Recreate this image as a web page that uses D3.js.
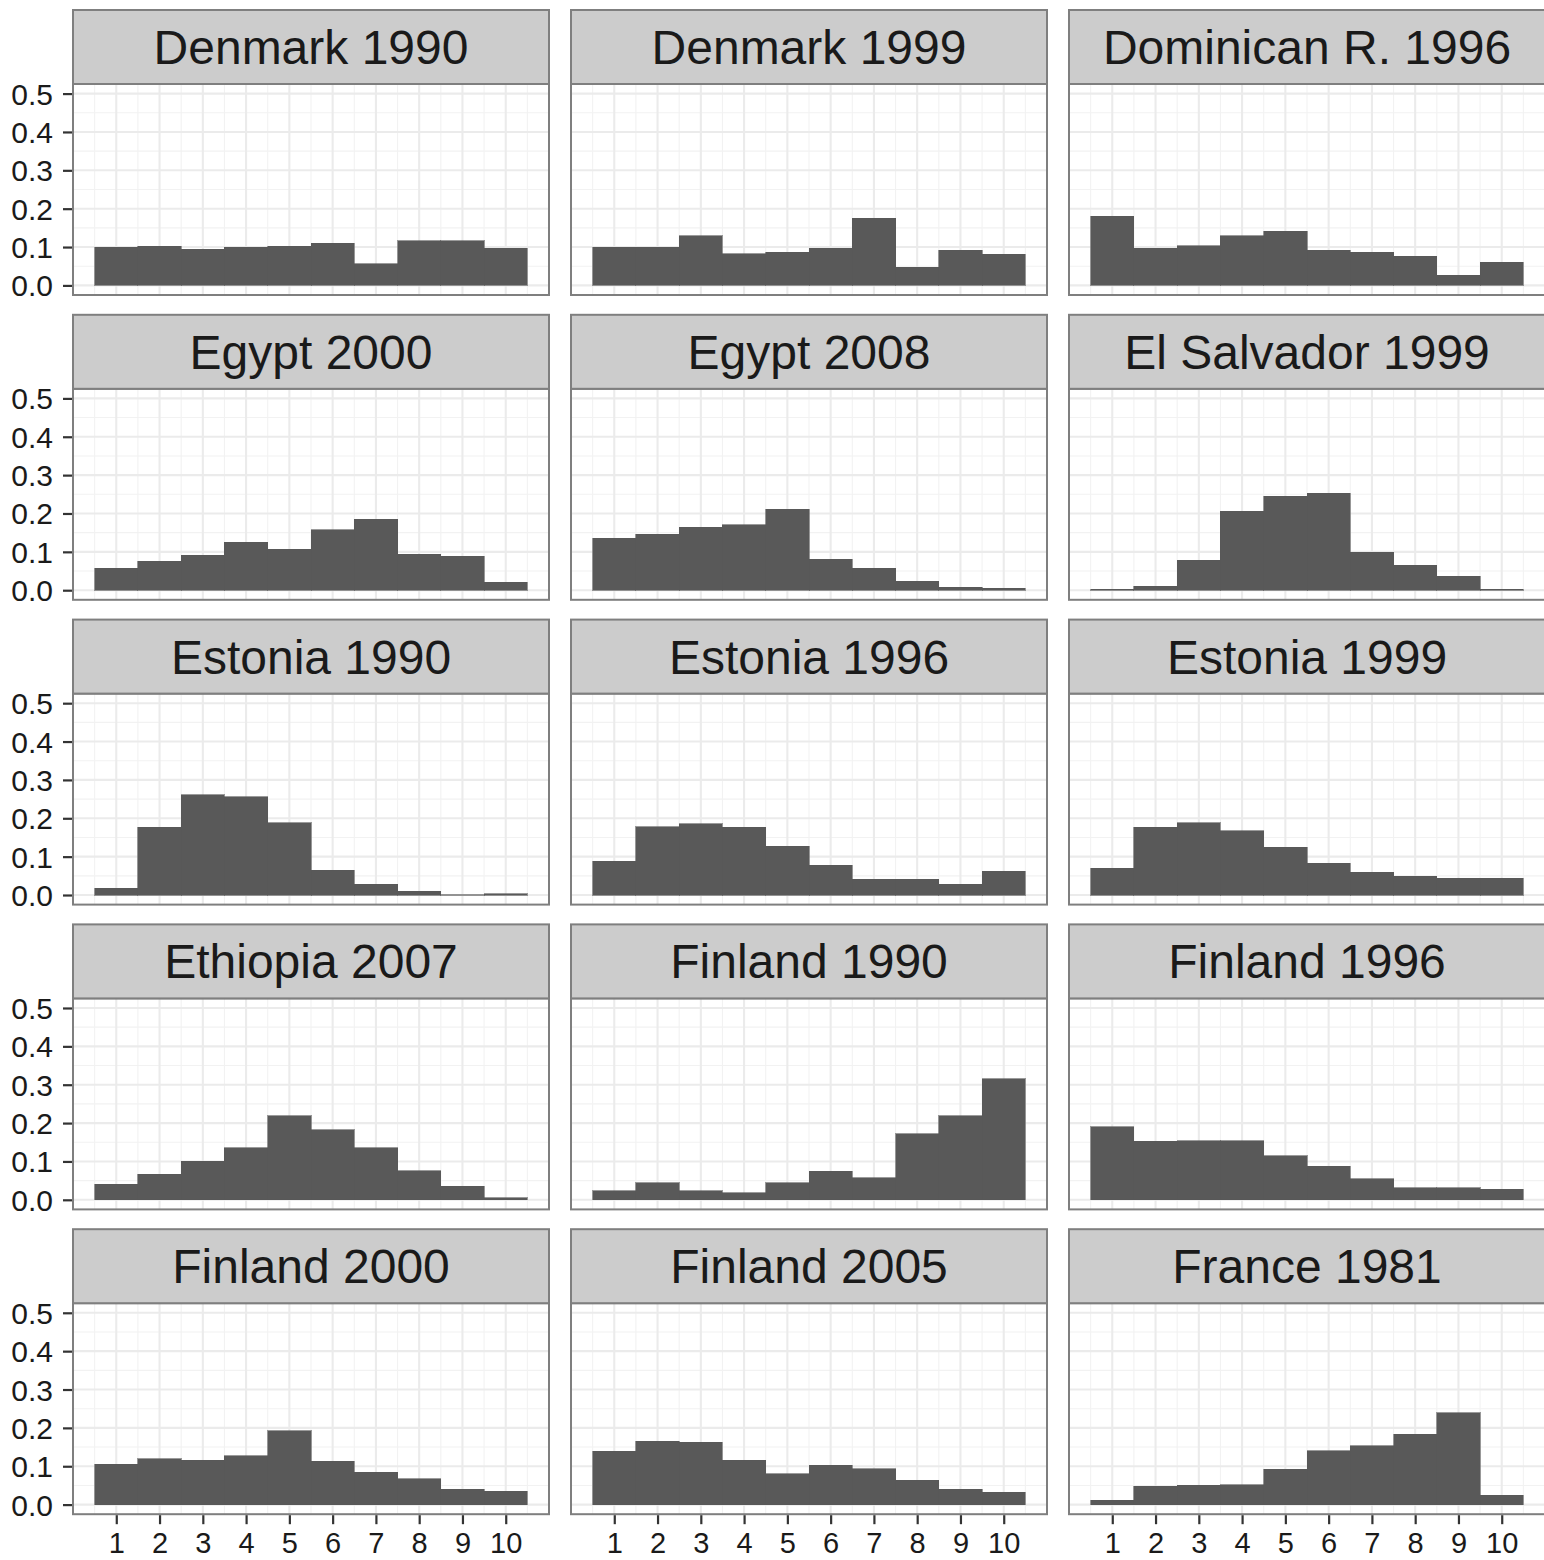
<!DOCTYPE html>
<html>
<head>
<meta charset="utf-8">
<script src="https://cdn.jsdelivr.net/npm/d3@7"></script>
<style>
html, body { margin: 0; padding: 0; background: #ffffff; }
svg { display: block; }
</style>
</head>
<body>
<svg id="chart" width="1544" height="1560"></svg>
<script>
// ---- data ----
const panelTitles = [
  "Denmark 1990", "Denmark 1999", "Dominican R. 1996",
  "Egypt 2000", "Egypt 2008", "El Salvador 1999",
  "Estonia 1990", "Estonia 1996", "Estonia 1999",
  "Ethiopia 2007", "Finland 1990", "Finland 1996",
  "Finland 2000", "Finland 2005", "France 1981"
];
const bins = [1, 2, 3, 4, 5, 6, 7, 8, 9, 10];
const xTickLabels = ["1", "2", "3", "4", "5", "6", "7", "8", "9", "10"];
const yTicks = [0.0, 0.1, 0.2, 0.3, 0.4, 0.5];
const yTickLabels = ["0.0", "0.1", "0.2", "0.3", "0.4", "0.5"];

const denmark1990   = [0.099, 0.102, 0.094, 0.099, 0.102, 0.110, 0.056, 0.117, 0.117, 0.097];
const denmark1999   = [0.099, 0.099, 0.130, 0.083, 0.086, 0.097, 0.175, 0.047, 0.091, 0.081];
const dominican1996 = [0.180, 0.097, 0.104, 0.130, 0.141, 0.091, 0.086, 0.076, 0.027, 0.060];
const egypt2000     = [0.057, 0.076, 0.091, 0.125, 0.107, 0.157, 0.185, 0.094, 0.089, 0.021];
const egypt2008     = [0.136, 0.146, 0.164, 0.170, 0.211, 0.081, 0.057, 0.023, 0.008, 0.005];
const elSalvador1999= [0.003, 0.010, 0.078, 0.206, 0.245, 0.253, 0.099, 0.065, 0.037, 0.003];
const estonia1990   = [0.018, 0.176, 0.261, 0.256, 0.189, 0.065, 0.028, 0.010, 0.001, 0.003];
const estonia1996   = [0.088, 0.178, 0.186, 0.176, 0.127, 0.078, 0.041, 0.041, 0.028, 0.062];
const estonia1999   = [0.070, 0.176, 0.189, 0.168, 0.124, 0.083, 0.059, 0.049, 0.044, 0.044];
const ethiopia2007  = [0.040, 0.066, 0.100, 0.136, 0.219, 0.183, 0.136, 0.076, 0.035, 0.006];
const finland1990   = [0.024, 0.045, 0.024, 0.019, 0.045, 0.074, 0.058, 0.172, 0.219, 0.315];
const finland1996   = [0.190, 0.152, 0.154, 0.154, 0.115, 0.087, 0.055, 0.032, 0.032, 0.027];
const finland2000   = [0.105, 0.120, 0.115, 0.128, 0.193, 0.113, 0.084, 0.068, 0.040, 0.035];
const finland2005   = [0.139, 0.165, 0.162, 0.115, 0.081, 0.102, 0.094, 0.063, 0.040, 0.032];
const france1981    = [0.011, 0.048, 0.050, 0.052, 0.092, 0.141, 0.154, 0.183, 0.240, 0.024];

const panelValues = [
  denmark1990, denmark1999, dominican1996,
  egypt2000, egypt2008, elSalvador1999,
  estonia1990, estonia1996, estonia1999,
  ethiopia2007, finland1990, finland1996,
  finland2000, finland2005, france1981
];

// ---- layout ----
const nCols = 3, nRows = 5;
const colLeft = [73, 571, 1069];
const panelW = 476;
const rowTop0 = 10, rowStep = 304.8;
const stripH = 74, panelH = 211;

const FONT = "'Liberation Sans', Arial, Helvetica, sans-serif";
const svg = d3.select("#chart");

panelTitles.forEach((title, i) => {
  const c = i % nCols, r = Math.floor(i / nCols);
  const x0 = colLeft[c];
  const stripTop = rowTop0 + r * rowStep;
  const pTop = stripTop + stripH;
  const pBot = pTop + panelH;

  const x = d3.scaleLinear().domain([0, 11]).range([x0, x0 + panelW]);
  const y = d3.scaleLinear().domain([-0.025, 0.525]).range([pBot, pTop]);

  const g = svg.append("g");

  // panel background
  g.append("rect").attr("x", x0).attr("y", pTop).attr("width", panelW).attr("height", panelH)
    .attr("fill", "#ffffff");

  // minor grid
  const yMinor = d3.range(0.05, 0.5, 0.1);
  g.selectAll(".ymin").data(yMinor).enter().append("line")
    .attr("x1", x0).attr("x2", x0 + panelW)
    .attr("y1", d => y(d)).attr("y2", d => y(d))
    .attr("stroke", "#f2f2f2").attr("stroke-width", 1.1);
  const xMinor = d3.range(0.5, 11, 1);
  g.selectAll(".xmin").data(xMinor).enter().append("line")
    .attr("y1", pTop).attr("y2", pBot)
    .attr("x1", d => x(d)).attr("x2", d => x(d))
    .attr("stroke", "#f2f2f2").attr("stroke-width", 1.1);

  // major grid
  g.selectAll(".ymaj").data(yTicks).enter().append("line")
    .attr("x1", x0).attr("x2", x0 + panelW)
    .attr("y1", d => y(d)).attr("y2", d => y(d))
    .attr("stroke", "#ebebeb").attr("stroke-width", 2.1);
  g.selectAll(".xmaj").data(bins).enter().append("line")
    .attr("y1", pTop).attr("y2", pBot)
    .attr("x1", d => x(d)).attr("x2", d => x(d))
    .attr("stroke", "#ebebeb").attr("stroke-width", 2.1);

  // bars
  const vals = panelValues[i];
  g.selectAll(".bar").data(bins).enter().append("rect")
    .attr("x", d => x(d - 0.5))
    .attr("width", d => x(d + 0.5) - x(d - 0.5))
    .attr("y", (d, k) => y(vals[k]))
    .attr("height", (d, k) => y(0) - y(vals[k]))
    .attr("fill", "#595959")
    .attr("stroke", "#595959").attr("stroke-width", 0.6)
    .attr("shape-rendering", "crispEdges");

  // panel border
  g.append("rect").attr("x", x0).attr("y", pTop).attr("width", panelW).attr("height", panelH)
    .attr("fill", "none").attr("stroke", "#7f7f7f").attr("stroke-width", 2);

  // strip
  g.append("rect").attr("x", x0).attr("y", stripTop).attr("width", panelW).attr("height", stripH)
    .attr("fill", "#cccccc").attr("stroke", "#7f7f7f").attr("stroke-width", 2);
  g.append("text")
    .attr("x", x0 + panelW / 2).attr("y", stripTop + stripH / 2 + 17)
    .attr("text-anchor", "middle")
    .attr("font-family", FONT).attr("font-size", 48).attr("fill", "#1a1a1a")
    .text(title);

  // y axis on first column
  if (c === 0) {
    const ya = d3.axisLeft(y).tickValues(yTicks).tickFormat((d, k) => yTickLabels[k])
      .tickSize(9).tickPadding(10);
    const ag = svg.append("g").attr("transform", `translate(${x0 - 1},0)`).call(ya);
    ag.select(".domain").remove();
    ag.selectAll(".tick line").attr("stroke", "#333333").attr("stroke-width", 2.2);
    ag.selectAll(".tick text").attr("font-family", FONT).attr("font-size", 30)
      .attr("fill", "#1a1a1a").attr("dy", "0.35em");
  }
  // x axis on last row
  if (r === nRows - 1) {
    const xa = d3.axisBottom(x).tickValues(bins).tickFormat((d, k) => xTickLabels[k])
      .tickSize(9).tickPadding(8);
    const ag = svg.append("g").attr("transform", `translate(0,${pBot + 1})`).call(xa);
    ag.select(".domain").remove();
    ag.selectAll(".tick line").attr("stroke", "#333333").attr("stroke-width", 2.2);
    ag.selectAll(".tick text").attr("font-family", FONT).attr("font-size", 29)
      .attr("fill", "#1a1a1a");
  }
});
</script>
</body>
</html>
